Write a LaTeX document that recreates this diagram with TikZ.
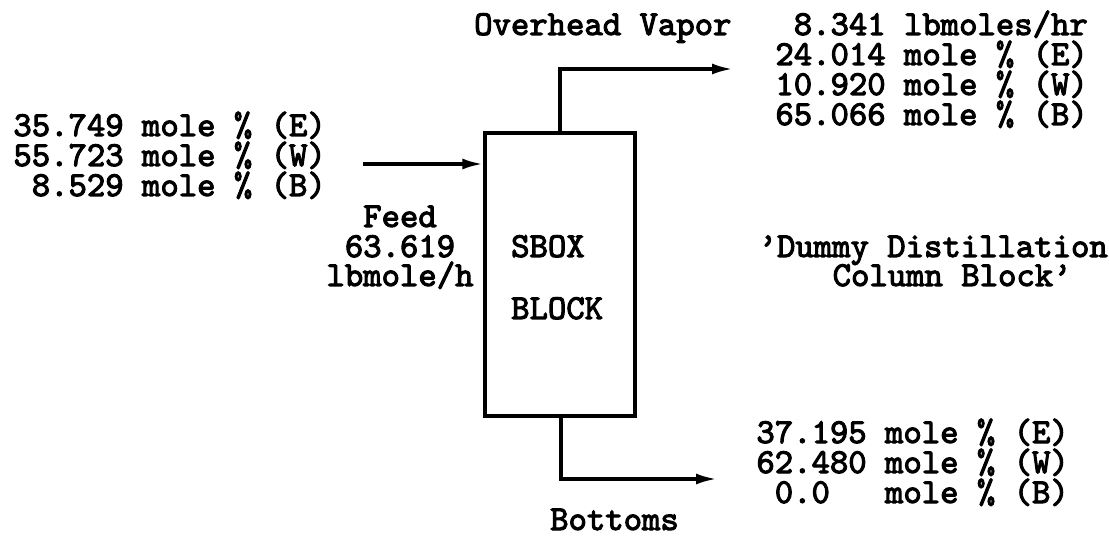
\documentclass[tikz,border=0pt]{standalone}
\usepackage{fontspec}
\newfontfamily\tw{lmmono10-regular.otf}[FakeBold=3]
\usetikzlibrary{arrows.meta}
\begin{document}
\begin{tikzpicture}[x=1pt,y=-1pt,
  txt/.style={inner sep=0pt, font=\tw\fontsize{35}{30}\selectfont},
  arr/.style={line width=3.4pt, -{Latex[length=21pt,width=11pt]}},
  unit/.style={draw, line width=3.4pt, minimum width=150pt, minimum height=283pt, inner sep=0pt}]
\useasboundingbox (0,0) rectangle (1109,540);
% block
\node[unit] (box) at (560,274.5) {};
\node[txt, anchor=base west] (sbox) at (511,257) {SBOX};
\node[txt, anchor=base west] (blk) at (511,319) {BLOCK};
% feed
\coordinate (fin) at (363,164);
\draw[arr] (fin) -- (fin -| box.west);
\node[txt, anchor=base east] (f1) at (326,136) {35.749 mole \% (E)};
\node[txt, anchor=base east] (f2) at (326,166) {55.723 mole \% (W)};
\node[txt, anchor=base east] (f3) at (326,196) {8.529 mole \% (B)};
\node[txt, anchor=base] (fd1) at (400,227) {Feed};
\node[txt, anchor=base] (fd2) at (400,257) {63.619};
\node[txt, anchor=base] (fd3) at (400,286) {lbmole/h};
% overhead
\coordinate (otop) at (560,69);
\coordinate (oend) at (733,69);
\draw[arr] (box.north) -- (otop) -- (oend);
\node[txt, anchor=base west] (ov) at (474,35) {Overhead Vapor};
\node[txt, anchor=base east] (o1) at (1088,35) {8.341 lbmoles/hr};
\node[txt, anchor=base east] (o2) at (1088,65) {24.014 mole \% (E)};
\node[txt, anchor=base east] (o3) at (1088,95) {10.920 mole \% (W)};
\node[txt, anchor=base east] (o4) at (1088,125) {65.066 mole \% (B)};
% label
\node[txt, anchor=base east] (d1) at (1108,257) {’Dummy Distillation};
\node[txt, anchor=base west] (d2) at (759,286) {\hphantom{xxxx}Column Block’};
% bottoms
\coordinate (bbot) at (561,479);
\coordinate (bend) at (717,479);
\draw[arr] (box.south -| bbot) -- (bbot) -- (bend);
\node[txt, anchor=base east] (b1) at (1069,443) {37.195 mole \% (E)};
\node[txt, anchor=base east] (b2) at (1069,473) {62.480 mole \% (W)};
\node[txt, anchor=base east] (b3) at (1069,503) {0.0\ \ \ mole \% (B)};
\node[txt, anchor=base west] (bt) at (550,530) {Bottoms};
\end{tikzpicture}
\end{document}
